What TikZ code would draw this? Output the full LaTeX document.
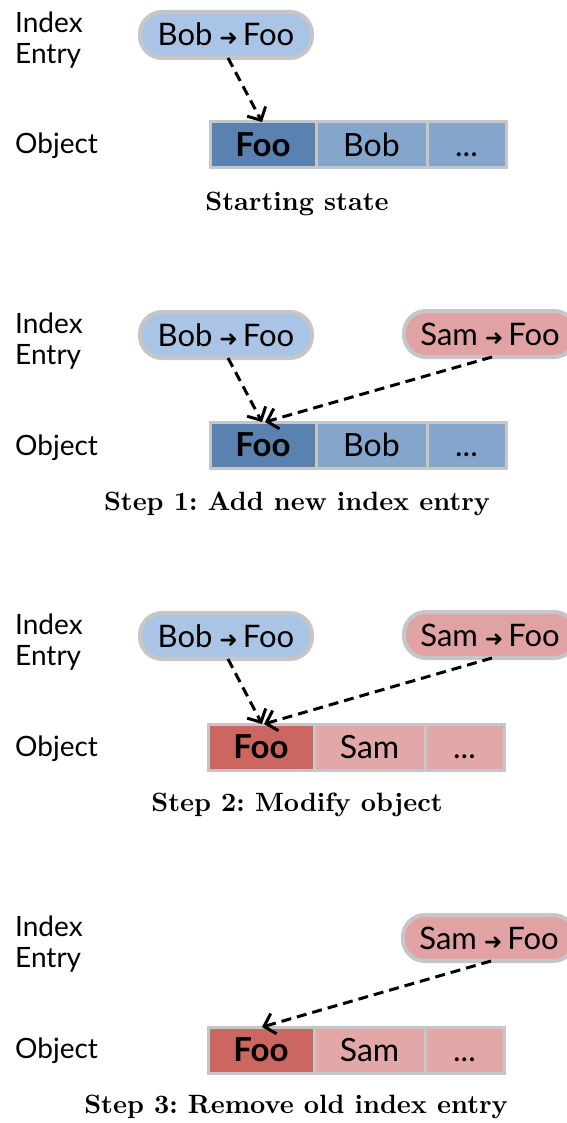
\documentclass[tikz,border=0pt]{standalone}
\usepackage{fontspec}
\usetikzlibrary{arrows.meta,calc}
\newfontfamily\labelfont{Lato}
\newfontfamily\symfont{DejaVu Sans}
\newfontfamily\capfont{lmroman10-bold}[Extension=.otf]

\definecolor{pillblue}{HTML}{A9C4E4}
\definecolor{pillred}{HTML}{E0A2A2}
\definecolor{rimgray}{HTML}{C6C6C6}
\definecolor{keyblue}{HTML}{5A82B0}
\definecolor{restblue}{HTML}{84A6CC}
\definecolor{keyred}{HTML}{CC6660}
\definecolor{restred}{HTML}{E2A8A7}

% the small arrow inside an index entry
\newcommand\entryarrow{\hspace{7pt}{\symfont\fontsize{22}{22}\selectfont ➜}\hspace{5pt}}

\tikzset{
  sidelabel/.style={anchor=west, inner sep=0pt, font=\labelfont\fontsize{28}{30}\selectfont},
  pill/.style={draw=rimgray, line width=4pt, rounded corners=22pt,
    minimum width=172pt, minimum height=46pt, inner sep=0pt, outer sep=0pt,
    text height=22pt, text depth=0pt, font=\labelfont\fontsize{31}{33}\selectfont},
  cell/.style={draw=rimgray, line width=3pt, minimum height=46pt, inner sep=0pt,
    outer sep=0pt, text height=23pt, text depth=0pt,
    font=\labelfont\fontsize{32}{34}\selectfont},
  keycell/.style={cell, minimum width=106pt, font=\labelfont\bfseries\fontsize{33}{34}\selectfont},
  midcell/.style={cell, minimum width=111pt},
  endcell/.style={cell, minimum width=79pt},
  caption/.style={inner sep=0pt, font=\capfont\fontsize{26.5}{30}\selectfont},
  link/.style={draw, line width=3pt, dash pattern=on 10pt off 6pt,
    -{Straight Barb[length=10pt,width=21pt,line width=3pt]}}
}

\begin{document}
\begin{tikzpicture}[x=1pt, y=-1pt]
\useasboundingbox[fill=white] (0,0) rectangle (566,1123);

% ---------- starting state ----------
\node[sidelabel] (idx0) at (15,22) {Index};
\node[sidelabel] (ent0) at (15,56) {Entry};
\node[sidelabel] (obj0) at (15,146) {Object};
\node[pill, fill=pillblue] (bob0) at (226,35) {Bob\entryarrow Foo};
\node[keycell, fill=keyblue] (foo0) at (263,145) {Foo};
\node[midcell, fill=restblue] (v0) at (371.5,145) {Bob};
\node[endcell, fill=restblue] (d0) at (466.5,145) {...};
\draw[link] ([xshift=2pt]bob0.south) -- ([xshift=-1pt]foo0.north);
\node[caption] (c0) at (297,204) {Starting state};

% ---------- step 1 ----------
\node[sidelabel] (idx1) at (15,323) {Index};
\node[sidelabel] (ent1) at (15,357) {Entry};
\node[sidelabel] (obj1) at (15,448) {Object};
\node[pill, fill=pillblue] (bob1) at (226,335) {Bob\entryarrow Foo};
\node[pill, fill=pillred] (sam1) at (490,334) {Sam\entryarrow Foo};
\node[keycell, fill=keyblue] (foo1) at (263,445) {Foo};
\node[midcell, fill=restblue] (v1) at (371.5,445) {Bob};
\node[endcell, fill=restblue] (d1) at (466.5,445) {...};
\draw[link] ([xshift=2pt]bob1.south) -- ([xshift=-1pt]foo1.north);
\draw[link] ([xshift=2pt]sam1.south) -- ([xshift=2pt]foo1.north);
\node[caption] (c1) at (297,504) {Step 1:\ Add new index entry};

% ---------- step 2 ----------
\node[sidelabel] (idx2) at (15,624) {Index};
\node[sidelabel] (ent2) at (15,658) {Entry};
\node[sidelabel] (obj2) at (15,749) {Object};
\node[pill, fill=pillblue] (bob2) at (226,636) {Bob\entryarrow Foo};
\node[pill, fill=pillred] (sam2) at (490,635) {Sam\entryarrow Foo};
\node[keycell, fill=keyred] (foo2) at (261,747) {Foo};
\node[midcell, fill=restred] (v2) at (369.5,747) {Sam};
\node[endcell, fill=restred] (d2) at (464.5,747) {...};
\draw[link] ([xshift=2pt]bob2.south) -- ([xshift=1pt]foo2.north);
\draw[link] ([xshift=2pt]sam2.south) -- ([xshift=3pt]foo2.north);
\node[caption] (c2) at (297,805) {Step 2:\ Modify object};

% ---------- step 3 ----------
\node[sidelabel] (idx3) at (15,926) {Index};
\node[sidelabel] (ent3) at (15,960) {Entry};
\node[sidelabel] (obj3) at (15,1051) {Object};
\node[pill, fill=pillred] (sam3) at (489,938) {Sam\entryarrow Foo};
\node[keycell, fill=keyred] (foo3) at (261,1050) {Foo};
\node[midcell, fill=restred] (v3) at (369.5,1050) {Sam};
\node[endcell, fill=restred] (d3) at (464.5,1050) {...};
\draw[link] ([xshift=2pt]sam3.south) -- ([xshift=1pt]foo3.north);
\node[caption] (c3) at (296,1107) {Step 3:\ Remove old index entry};
\end{tikzpicture}
\end{document}
